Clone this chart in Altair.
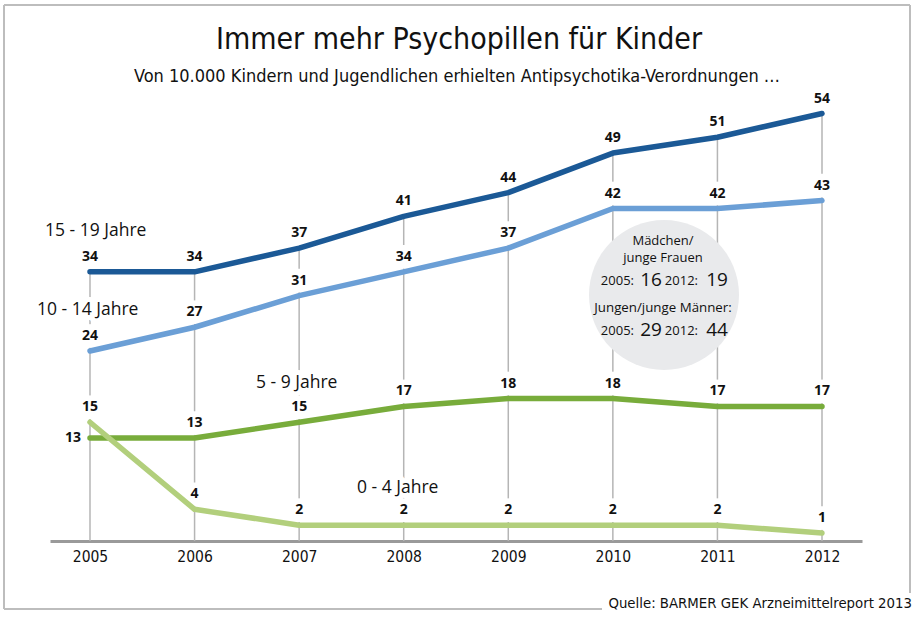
import altair as alt
import pandas as pd

# ---------------- data ----------------
years = [2005, 2006, 2007, 2008, 2009, 2010, 2011, 2012]
age_15_19 = [34, 34, 37, 41, 44, 49, 51, 54]
age_10_14 = [24, 27, 31, 34, 37, 42, 42, 43]
age_5_9 = [13, 13, 15, 17, 18, 18, 17, 17]
age_0_4 = [15, 4, 2, 2, 2, 2, 2, 1]
series_names = ["15 - 19 Jahre", "10 - 14 Jahre", "5 - 9 Jahre", "0 - 4 Jahre"]
series_colors = ["#1b5996", "#6b9fd6", "#78ac3b", "#b2cf7c"]

title_text = "Immer mehr Psychopillen für Kinder"
subtitle_text = "Von 10.000 Kindern und Jugendlichen erhielten Antipsychotika-Verordnungen …"
source_text = "Quelle: BARMER GEK Arzneimittelreport 2013"
girls_head = ["Mädchen/", "junge Frauen"]
boys_head = "Jungen/junge Männer:"
girls_values = [16, 19]
boys_values = [29, 44]
compare_years = ["2005:", "2012:"]

rows = []
for name, vals in zip(series_names, [age_15_19, age_10_14, age_5_9, age_0_4]):
    for yr, v in zip(years, vals):
        rows.append({"series": name, "year": yr, "value": v,
                     "left": (name == "5 - 9 Jahre" and yr == 2005)})
df = pd.DataFrame(rows)
one = pd.DataFrame({"k": [0]})

# ---------------- styling ----------------
W, H = 812, 475
NUM_FONT = "Open Sans"
COND_FONT = "DejaVu Sans Condensed"

xs = alt.Scale(domain=[2004.6175, 2012.3825], nice=False, zero=False)
ys = alt.Scale(domain=[0, 60], nice=False, zero=True)
xaxis = alt.Axis(values=years, format="d", title=None, ticks=False, grid=False,
                 domainColor="#9a9a9a", domainWidth=3, labelFont=COND_FONT,
                 labelFontSize=15.5, labelColor="#111111", labelPadding=8)
X = alt.X("year:Q", scale=xs, axis=xaxis)
Y = alt.Y("value:Q", scale=ys, axis=None)
C = alt.Color("series:N", scale=alt.Scale(domain=series_names, range=series_colors), legend=None)

base = alt.Chart(df)

# frame
frame_col = "#bdbdbd"
frame = [
    alt.Chart(one).mark_rule(color=frame_col, strokeWidth=2).encode(
        x=alt.value(-46), y=alt.value(-61), y2=alt.value(543)),
    alt.Chart(one).mark_rule(color=frame_col, strokeWidth=2).encode(
        x=alt.value(-46), x2=alt.value(860), y=alt.value(-61)),
    alt.Chart(one).mark_rule(color=frame_col, strokeWidth=2).encode(
        x=alt.value(860), y=alt.value(-61), y2=alt.value(527)),
    alt.Chart(one).mark_rule(color=frame_col, strokeWidth=2).encode(
        x=alt.value(-46), x2=alt.value(552), y=alt.value(543)),
]

# vertical grid rules from baseline to top value of each year
grid = base.transform_aggregate(top="max(value)", groupby=["year"]).transform_calculate(
    base0="0").mark_rule(color="#b5b5b5", strokeWidth=1.5).encode(
    x=X, y=alt.Y("top:Q", scale=ys, axis=None), y2="base0:Q")

# white masks behind value labels
mask_above = base.transform_filter("!datum.left").mark_point(
    shape="square", filled=True, color="white", opacity=1, size=560, yOffset=-15
).encode(x=X, y=Y)

# series names with white halo
name_pos = [(-5, 165), (-13, 244), (206, 317), (307, 422)]
name_halo = []
name_text = []
for nm, (px, py) in zip(series_names, name_pos):
    name_halo.append(alt.Chart(one).mark_text(
        text=nm, font=NUM_FONT, fontSize=17.5, align="left", baseline="middle",
        color="white", stroke="white", strokeWidth=10, strokeJoin="round"
    ).encode(x=alt.value(px), y=alt.value(py)))
    name_text.append(alt.Chart(one).mark_text(
        text=nm, font=NUM_FONT, fontSize=17.5, align="left", baseline="middle",
        color="#111111"
    ).encode(x=alt.value(px), y=alt.value(py)))

# info circle (Vega circle radius = sqrt(size)/2)
circle = alt.Chart(one).mark_point(
    shape="circle", filled=True, color="#e9eaec", opacity=1, size=150 * 150
).encode(x=alt.value(614), y=alt.value(229))

lines = base.mark_line(strokeWidth=5.5, strokeCap="round", strokeJoin="round").encode(
    x=X, y=Y, color=C, detail="series:N")

labels_above = base.transform_filter("!datum.left").mark_text(
    font=NUM_FONT, fontWeight="bold", fontSize=14, color="#111111", dy=-15,
    baseline="middle").encode(x=X, y=Y, text="value:Q")
labels_left = base.transform_filter("datum.left").mark_text(
    font=NUM_FONT, fontWeight="bold", fontSize=14, color="#111111", dx=-17,
    baseline="middle").encode(x=X, y=Y, text="value:Q")

# circle texts
ct = []
def ctext(t, px, py, size, align="center"):
    return alt.Chart(one).mark_text(text=t, font=NUM_FONT, fontSize=size, align=align,
                                    baseline="middle", color="#111111").encode(
        x=alt.value(px), y=alt.value(py))

ct.append(ctext(girls_head[0], 613, 175, 13))
ct.append(ctext(girls_head[1], 613, 192, 13))
ct.append(ctext(boys_head, 613, 242, 13.3))
for row_y, vals in [(214, girls_values), (264, boys_values)]:
    ct.append(ctext(compare_years[0], 584, row_y + 1, 13, "right"))
    ct.append(ctext(str(vals[0]), 601, row_y, 19, "center"))
    ct.append(ctext(compare_years[1], 648, row_y + 1, 13, "right"))
    ct.append(ctext(str(vals[1]), 667, row_y, 19, "center"))

title = alt.Chart(one).mark_text(text=title_text, font=COND_FONT, fontSize=30,
                                 align="center", baseline="middle", color="#111111").encode(
    x=alt.value(409), y=alt.value(-26))
subtitle = alt.Chart(one).mark_text(text=subtitle_text, font=COND_FONT, fontSize=18,
                                    align="center", baseline="middle", color="#111111").encode(
    x=alt.value(407), y=alt.value(11))
source = alt.Chart(one).mark_text(text=source_text, font=COND_FONT, fontSize=14.8,
                                  align="right", baseline="middle", color="#111111").encode(
    x=alt.value(862), y=alt.value(538))

chart = alt.layer(
    *frame, grid, mask_above, *name_halo, circle, lines, labels_above, labels_left,
    *name_text, *ct, title, subtitle, source
).properties(
    width=W, height=H,
    padding={"left": 50, "top": 66, "right": 56, "bottom": 78},
    autosize=alt.AutoSizeParams(type="none"),
    background="white",
).configure_view(stroke=None)

chart.save("out.html", embed_options={"renderer": "svg", "actions": False})
